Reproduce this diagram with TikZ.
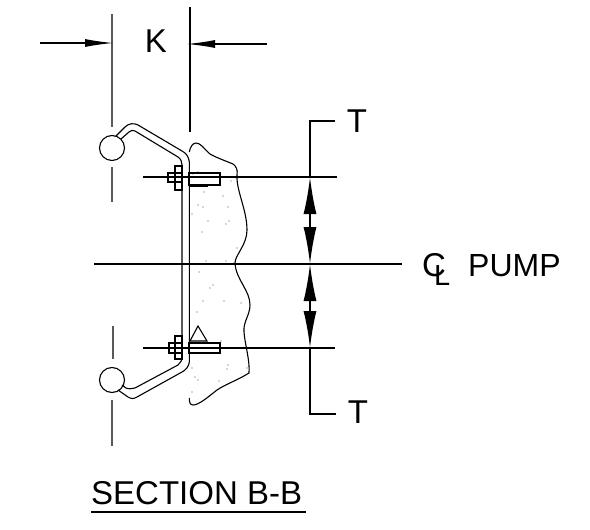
\documentclass[tikz,border=0pt]{standalone}
\usepackage{fontspec}
\setmainfont{Liberation Sans}
\usetikzlibrary{arrows.meta}
\tikzstyle{thinline} = [line width=1.1pt]
\tikzstyle{extline} = [line width=1.1pt,black!65]
\tikzstyle{dimarrow} = [line width=1.1pt,-{Latex[length=28pt,width=8pt]}]
\tikzstyle{bigarrow} = [line width=1.8pt,-{Latex[length=37pt,width=13pt]}]
\tikzstyle{label} = [inner sep=0pt,font=\fontsize{33}{33}\selectfont]

\begin{document}
\begin{tikzpicture}[x=1pt,y=-1pt]
\useasboundingbox (0,0) rectangle (590,530);

% K dimension
\draw[extline] (112,14) -- (112,127);
\draw[extline] (112,167) -- (112,202);
\draw[extline] (113,326) -- (113,359);
\draw[extline] (112,400) -- (112,446);
\draw[thinline] (190,7) -- (190,132);
\coordinate (kl) at (40,43);
\coordinate (klend) at (113,43);
\coordinate (kr) at (267,44);
\coordinate (krend) at (187,44);
\draw[dimarrow] (kl) -- (klend);
\draw[dimarrow] (kr) -- (krend);
\node[label] (k) at (156,41) {K};

% balls and hooks
\node[draw,circle,thinline,minimum size=25pt,inner sep=0pt] (balltop) at (112,148) {};
\node[draw,circle,thinline,minimum size=25pt,inner sep=0pt] (ballbot) at (112,380) {};
\draw[thinline] (116,136) -- (125,127) .. controls (129,123) and (134,123) .. (138,125)
  -- (182,151) .. controls (186,153) and (189,157) .. (189.3,162) -- (189.3,362)
  .. controls (189,366) and (186,370) .. (182,372) -- (137,397)
  .. controls (134,399) and (131,399) .. (128,397) -- (118,390);
\draw[thinline] (121,139) -- (129,132) .. controls (131,130) and (133,130) .. (135,131)
  -- (178,157) .. controls (181,159) and (182,162) .. (182,165) -- (182,355)
  .. controls (182,360) and (181,363) .. (178,365) -- (135,388)
  .. controls (132,389) and (128,389) .. (126,388) -- (122,385);

% concrete
\draw[thinline] (189.3,152) .. controls (190,147) and (193,143) .. (196,143)
  .. controls (201,143) and (204,149) .. (210,154)
  .. controls (217,158) and (226,161) .. (233,164)
  .. controls (236,166) and (238,170) .. (237,175)
  .. controls (236,190) and (247,210) .. (247,230)
  .. controls (247,245) and (235,255) .. (235,263)
  .. controls (236,280) and (250,290) .. (250,305)
  .. controls (250,315) and (243,322) .. (244,332)
  .. controls (245,345) and (250,360) .. (249,373)
  .. controls (238,380) and (226,384) .. (217,390)
  .. controls (208,397) and (199,405) .. (193,405)
  .. controls (190,405) and (189.3,402) .. (189.3,398);
\foreach \x/\y in {198/172, 193/174, 231/181, 204/192, 223/196, 198/205, 203/207, 228/207,
  192/214, 208/221, 229/221, 226/224, 202/232, 237/248, 206/261, 226/261, 234/263,
  199/272, 213/285, 210/288, 203/301, 224/301, 241/303, 197/312, 221/341, 192/368,
  228/365, 227/369, 195/377, 198/380, 219/381, 247/368, 192/392} {
    \fill[black!70] (\x,\y) circle (0.6pt);
}

% bolts
\draw[thinline] (168,173) rectangle (175,182);
\draw[thinline] (175,166) rectangle (182,190);
\draw[thinline] (175,173) -- (182,173);
\draw[thinline] (175,182) -- (182,182);
\draw[thinline] (189,173) rectangle (220,185);
\draw[thinline] (189,186.5) -- (207,186.5) -- (207,185);
\draw[thinline] (169,343) rectangle (175,353);
\draw[thinline] (175,336) rectangle (182,359);
\draw[thinline] (175,343) -- (182,343);
\draw[thinline] (175,353) -- (182,353);
\draw[thinline] (189,343) rectangle (220,353);
\draw[thinline] (190,341) -- (198,326) -- (207,341) -- cycle;

% centre lines
\coordinate (tt) at (310,121);
\coordinate (tb) at (310,414);
\coordinate (a) at (310,177);
\coordinate (c) at (310,264);
\coordinate (b) at (310,348);
\draw[thinline] (143,177) -- (337,177);
\draw[thinline] (94,264) -- (402,264);
\draw[thinline] (143,348) -- (335,348);

% T dimension
\draw[thinline] (335,121) -- (tt) -- (a);
\draw[thinline] (336,414) -- (tb) -- (b);
\draw[bigarrow] (310,221) -- (a);
\draw[bigarrow] (310,221) -- (c);
\draw[bigarrow] (310,306) -- (c);
\draw[bigarrow] (310,306) -- (b);
\node[label] (ttop) at (357,121) {T};
\node[label] (tbot) at (358,412) {T};

% pump label
\node[label] (cl1) at (434,265) {C};
\node[label,font=\fontsize{29}{29}\selectfont,anchor=south west] (cl2) at (434,286) {L};
\node[label,anchor=west,font=\fontsize{32}{32}\selectfont] (pump) at (468,265.5) {PUMP};

% title
\node[label,anchor=south west] (title) at (91,505) {SECTION B-B};
\draw[line width=1.3pt] (91,512) -- (306,512);
\end{tikzpicture}
\end{document}
